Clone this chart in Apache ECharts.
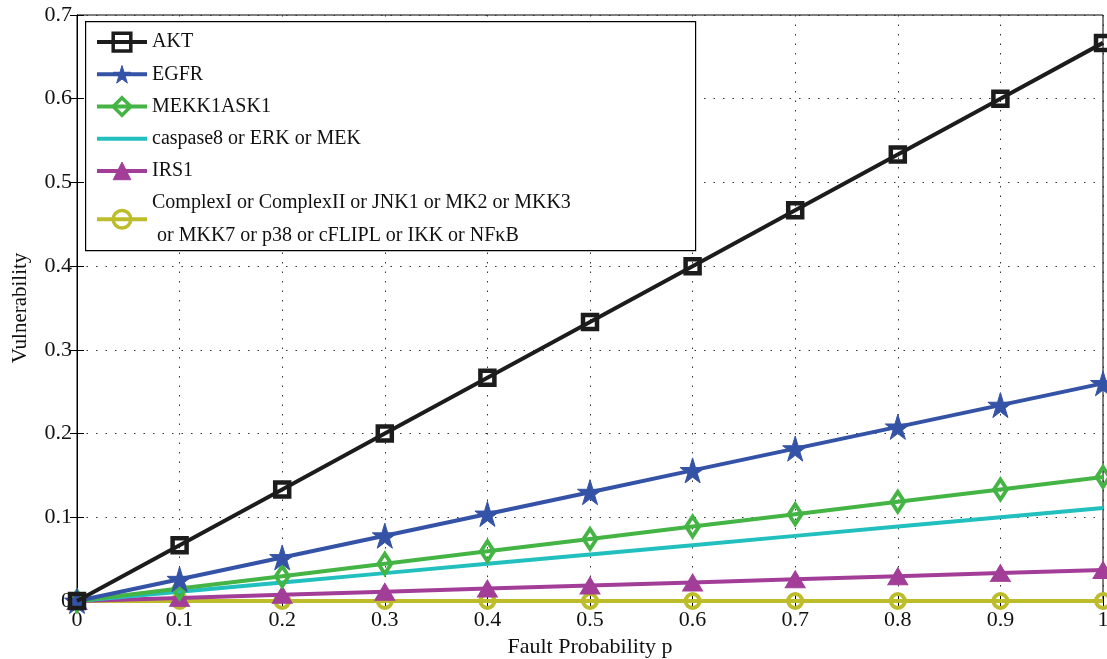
<!DOCTYPE html>
<html><head><meta charset="utf-8">
<script src="https://cdn.jsdelivr.net/npm/echarts@6/dist/echarts.min.js"></script>
<style>html,body{margin:0;padding:0;background:#fff}#c{width:1107px;height:659px}</style>
</head><body><div id="c"></div>
<script>
const pValues = [0,0.1,0.2,0.3,0.4,0.5,0.6,0.7,0.8,0.9,1];
const seriesNames = ['AKT','EGFR','MEKK1ASK1','caspase8 or ERK or MEK','IRS1','ComplexI or ComplexII or JNK1 or MK2 or MKK3\n or MKK7 or p38 or cFLIPL or IKK or NF\u03baB'];
const aktValues = [0,0.0667,0.1333,0.2,0.2667,0.3333,0.4,0.4667,0.5333,0.6,0.6667];
const egfrValues = [0,0.026,0.052,0.078,0.104,0.13,0.156,0.182,0.208,0.234,0.26];
const mekkValues = [0,0.0148,0.0296,0.0444,0.0593,0.0741,0.0889,0.1037,0.1185,0.1333,0.1481];
const caspValues = [0,0.0111,0.0222,0.0333,0.0444,0.0556,0.0667,0.0778,0.0889,0.1,0.1111];
const irs1Values = [0,0.0037,0.0074,0.0111,0.0148,0.0185,0.0222,0.0259,0.0296,0.0333,0.037];
const complexValues = [0,0,0,0,0,0,0,0,0,0,0];
const yTicks = [0,0.1,0.2,0.3,0.4,0.5,0.6,0.7];

const colors = ['#1c1c1c','#3553a6','#44b444','#22bfbf','#a23e98','#bdbd2c'];
const star = 'path://M50,0 L61,35 L98,35 L68,57 L79,91 L50,70 L21,91 L32,57 L2,35 L39,35 Z';
const symbols = ['rect', star, 'diamond', 'none', 'triangle', 'circle'];
const symSizes = [14, 25, [13, 20], 0, [20, 17], 14];
const hollow = [true, false, true, false, false, true];
const borderW = [4.5, 1, 4, 0, 1, 4];
const allValues = [aktValues, egfrValues, mekkValues, caspValues, irs1Values, complexValues];

const font = 'Liberation Serif';
const chart = echarts.init(document.getElementById('c'));
const series = allValues.map((vals, i) => ({
  name: seriesNames[i],
  type: 'line',
  data: pValues.map((p, k) => [p, vals[k]]),
  symbol: symbols[i],
  symbolSize: symSizes[i],
  showSymbol: symbols[i] !== 'none',
  clip: false,
  lineStyle: {color: colors[i], width: 4},
  itemStyle: hollow[i]
    ? {color: 'rgba(255,255,255,0)', borderColor: colors[i], borderWidth: borderW[i]}
    : {color: colors[i], borderColor: colors[i], borderWidth: borderW[i]},
  z: 10 - i
}));
const legendData = seriesNames.map((n, i) => i === 3
  ? {name: n, itemStyle: {color: 'transparent', borderColor: 'transparent', opacity: 0}}
  : {name: n, itemStyle: {borderWidth: hollow[i] ? 3.5 : 1}});
chart.setOption({
  animation: false,
  backgroundColor: '#fff',
  grid: {left: 77, right: 4, top: 15, bottom: 58, outerBoundsMode: 'none', containLabel: false,
         show: true, borderColor: '#000', borderWidth: 1, backgroundColor: 'transparent'},
  graphic: [{type: 'rect', left: 85, top: 21, shape: {width: 610, height: 229}, style: {fill: '#fff', stroke: '#000', lineWidth: 1.2}, z: 50}],
  legend: {
    orient: 'vertical', left: 90, top: 21, itemWidth: 50, itemHeight: 22, itemGap: 0,
    textStyle: {fontFamily: font, fontSize: 20, color: '#111', lineHeight: 32.2},
    lineStyle: {width: 4},
    z: 60, data: legendData
  },
  xAxis: [{
    type: 'value', min: 0, max: 1, interval: 0.1,
    name: 'Fault Probability p', nameLocation: 'middle', nameGap: 34,
    nameTextStyle: {fontFamily: font, fontSize: 22, color: '#111'},
    axisLine: {lineStyle: {color: '#000'}},
    axisTick: {inside: true, length: 7, lineStyle: {color: '#000'}},
    axisLabel: {fontFamily: font, fontSize: 22, color: '#111', margin: 8, formatter: v => String(+v.toFixed(1))},
    splitLine: {show: true, lineStyle: {color: '#333', type: [1.5, 8], width: 1}}
  }, {
    type: 'value', min: 0, max: 1, interval: 0.1, position: 'top',
    axisLine: {show: true, lineStyle: {color: '#000'}},
    axisTick: {inside: true, length: 7, lineStyle: {color: '#000'}},
    axisLabel: {show: false}, splitLine: {show: false}
  }],
  yAxis: [{
    type: 'value', min: 0, max: 0.7, interval: 0.1,
    name: 'Vulnerability', nameLocation: 'middle', nameGap: 46,
    nameTextStyle: {fontFamily: font, fontSize: 21, color: '#111'},
    axisLine: {show: true, lineStyle: {color: '#000'}},
    axisTick: {show: true, inside: true, length: 7, lineStyle: {color: '#000'}},
    axisLabel: {fontFamily: font, fontSize: 22, color: '#111', margin: 5, formatter: v => String(+v.toFixed(1))},
    splitLine: {show: true, lineStyle: {color: '#333', type: [1.5, 8], width: 1}}
  }, {
    type: 'value', min: 0, max: 0.7, interval: 0.1, position: 'right',
    axisLine: {show: true, lineStyle: {color: '#000'}},
    axisTick: {show: true, inside: true, length: 7, lineStyle: {color: '#000'}},
    axisLabel: {show: false}, splitLine: {show: false}
  }],
  series: series
});
</script></body></html>
